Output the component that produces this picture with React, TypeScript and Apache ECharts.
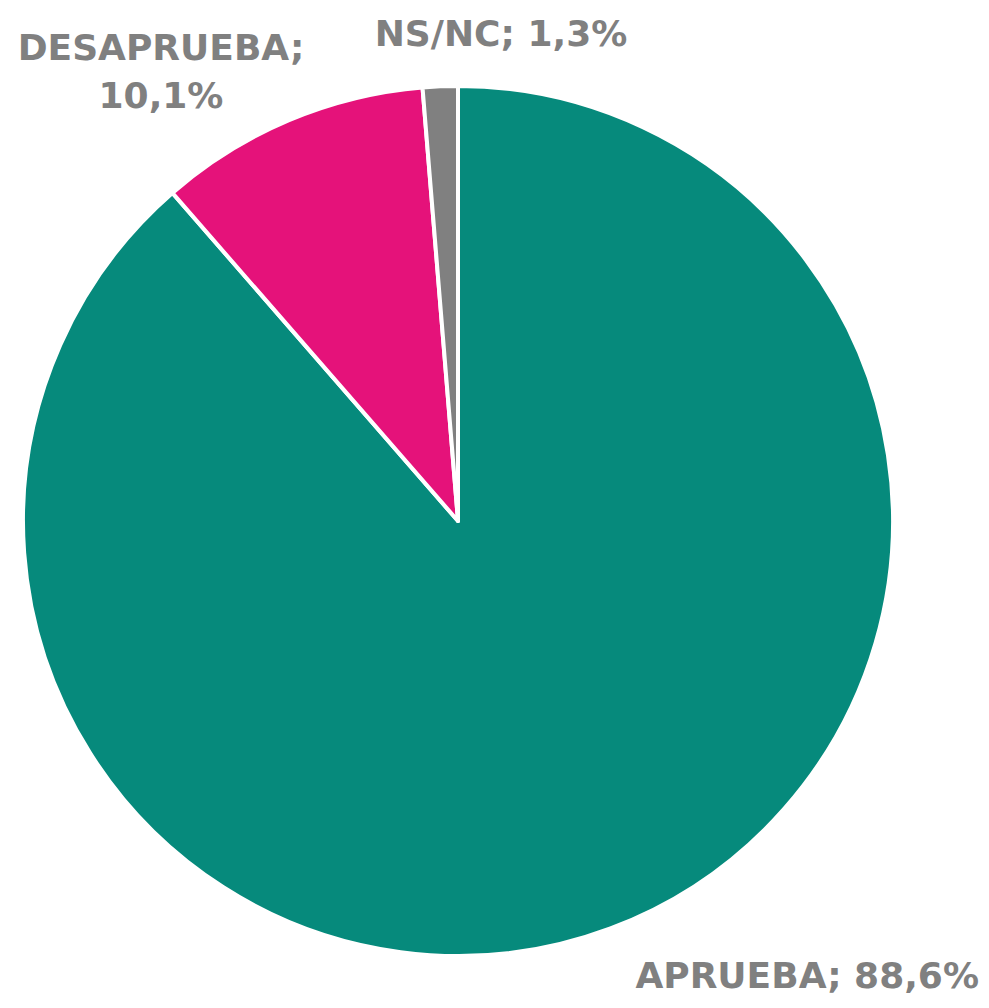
import React, { useEffect, useRef } from "react";
import * as echarts from "echarts";

const categories = ["APRUEBA", "DESAPRUEBA", "NS/NC"];
const values = [88.6, 10.1, 1.3];
const valueLabels = ["88,6%", "10,1%", "1,3%"];
const colors = ["#068a7c", "#e5127a", "#808080"];

export default function App() {
  const ref = useRef<HTMLDivElement>(null);
  useEffect(() => {
    if (!ref.current) return;
    const chart = echarts.init(ref.current, null, { renderer: "svg" });
    const labelPos = [
      { x: 979, y: 975, align: "right" },
      { x: 161, y: 71, align: "center" },
      { x: 501, y: 33, align: "center" },
    ];
    chart.setOption({
      animation: false,
      backgroundColor: "#ffffff",
      series: [
        {
          type: "pie",
          center: [458, 521],
          radius: [0, 435],
          startAngle: 90,
          clockwise: true,
          itemStyle: { borderColor: "#ffffff", borderWidth: 4 },
          data: categories.map((c, i) => ({
            name: c,
            value: values[i],
            itemStyle: { color: colors[i] },
            label: {
              formatter:
                i === 1 ? `${c};\n${valueLabels[i]}` : `${c}; ${valueLabels[i]}`,
            },
          })),
          label: {
            show: true,
            position: "outside",
            alignTo: "none",
            overflow: "none",
            width: 600,
            color: "#808080",
            fontFamily: "DejaVu Sans",
            fontWeight: "bold",
            fontSize: 36,
            lineHeight: 48,
            align: "center",
          },
          labelLine: { show: false },
          labelLayout: (params: any) => {
            const p = labelPos[params.dataIndex];
            return { x: p.x, y: p.y, align: p.align, verticalAlign: "middle" };
          },
        },
      ],
    });
    return () => chart.dispose();
  }, []);
  return (
    <div
      ref={ref}
      style={{ position: "fixed", left: 0, top: 0, width: 989, height: 1008 }}
    />
  );
}
